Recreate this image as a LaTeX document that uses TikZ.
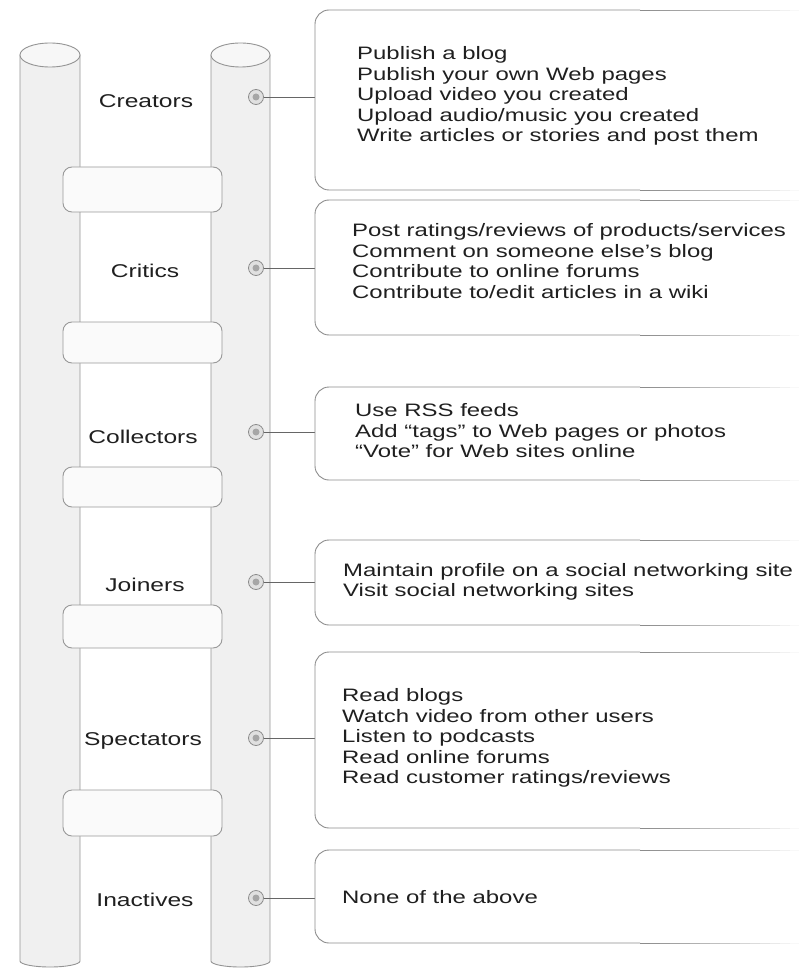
\documentclass[tikz,border=0pt]{standalone}
\usepackage{fontspec}
\newfontfamily\dfont[FakeStretch=1.33]{Liberation Sans}
\newcommand\itembox[2]{%
  \draw[bracket] (640,#1) -- (315,#1) -- (315,#2) -- (640,#2);
  \foreach \k in {0,...,15}{%
    \pgfmathsetmacro\op{1-\k/16}%
    \draw[black!45, line width=0.9pt, opacity=\op] (640+\k*10,#1) -- (650+\k*10,#1);
    \draw[black!45, line width=0.9pt, opacity=\op] (640+\k*10,#2) -- (650+\k*10,#2);
  }%
}
\begin{document}
\begin{tikzpicture}[x=1pt,y=-1pt,
  poleline/.style={draw=black!42, line width=0.9pt, fill=black!6},
  poletop/.style={draw=black!42, line width=0.9pt, fill=black!3},
  rungbox/.style={draw=black!40, line width=0.9pt, fill=black!2, rounded corners=9pt},
  dot/.style={circle, draw=black!45, line width=0.8pt, fill=black!12, minimum size=15pt, inner sep=0pt},
  conn/.style={draw=black!60, line width=0.8pt},
  lbl/.style={font=\dfont\fontsize{18.5}{20}\selectfont, text=black!88, inner sep=0pt},
  itemtext/.style={font=\dfont\fontsize{18}{20.5}\selectfont, text=black!88, align=left, anchor=west, inner sep=0pt},
  bracket/.style={draw=black!45, line width=0.9pt, rounded corners=14pt}]
\useasboundingbox (0,0) rectangle (798,973);

% poles
\path[poleline] (20,55) -- (20,961) arc[start angle=180, end angle=360, x radius=30pt, y radius=6pt] -- (80,55) -- cycle;
\path[poletop] (50,55) ellipse [x radius=30pt, y radius=12pt];
\path[poleline] (211,55) -- (211,961) arc[start angle=180, end angle=360, x radius=29.5pt, y radius=6pt] -- (270,55) -- cycle;
\path[poletop] (240.5,55) ellipse [x radius=29.5pt, y radius=12pt];

% rungs
\foreach \t/\b in {167/212, 322/363, 467/507, 605/648, 790/836}
  \path[rungbox] (63,\t) rectangle (222,\b);

% labels
\node[lbl] (l1) at (146,101) {Creators};
\node[lbl] (l2) at (145,271) {Critics};
\node[lbl] (l3) at (143,437) {Collectors};
\node[lbl] (l4) at (145,585) {Joiners};
\node[lbl] (l5) at (143,741) {Spectators};
\node[lbl] (l6) at (145,900) {Inactives};

% circles
\foreach \i/\y in {1/97, 2/268, 3/432, 4/582, 5/738, 6/898}{
  \node[dot] (c\i) at (256,\y) {};
  \fill[black!35] (c\i) circle (3.5pt);
  \coordinate (b\i) at (315,\y);
  \draw[conn] (c\i.east) -- (b\i);
}

% boxes
\itembox{10}{190}
\itembox{200}{335}
\itembox{387}{480}
\itembox{540}{625}
\itembox{652}{828}
\itembox{850}{943}

% box texts
\node[itemtext] (t1) at (357,96) {Publish a blog\\Publish your own Web pages\\Upload video you created\\Upload audio/music you created\\Write articles or stories and post them};
\node[itemtext] (t2) at (352,261) {Post ratings/reviews of products/services\\Comment on someone else’s blog\\Contribute to online forums\\Contribute to/edit articles in a wiki};
\node[itemtext] (t3) at (355,431) {Use RSS feeds\\Add “tags” to Web pages or photos\\“Vote” for Web sites online};
\node[itemtext] (t4) at (343,582) {Maintain profile on a social networking site\\Visit social networking sites};
\node[itemtext] (t5) at (342,738) {Read blogs\\Watch video from other users\\Listen to podcasts\\Read online forums\\Read customer ratings/reviews};
\node[itemtext] (t6) at (342,897) {None of the above};
\end{tikzpicture}
\end{document}
